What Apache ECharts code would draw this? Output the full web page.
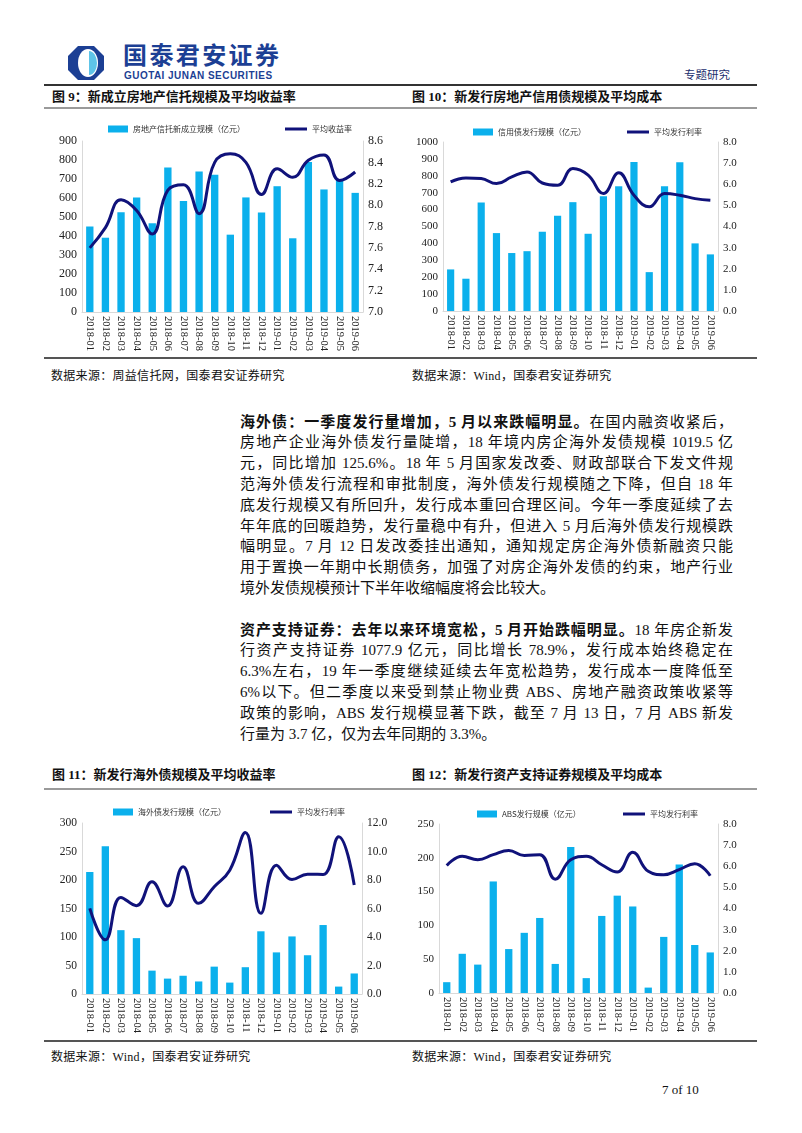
<!DOCTYPE html>
<html><head><meta charset="utf-8">
<script src="https://cdn.jsdelivr.net/npm/echarts@6/dist/echarts.min.js"></script>
<style>
body{margin:0;background:#fff;}
#page{position:relative;width:802px;height:1133px;overflow:hidden;font-family:"Liberation Serif","Noto Sans CJK SC",serif;color:#111;background:#fff;}
.abs{position:absolute;white-space:nowrap;}
.hr{position:absolute;left:44px;width:713px;}
.title{font-size:13px;font-weight:bold;line-height:16px;}
.src{font-size:12px;line-height:16px;letter-spacing:0.3px;}
.ln{position:absolute;left:240px;width:493px;font-size:15px;height:21px;line-height:21px;white-space:nowrap;text-align:justify;text-align-last:justify;}
.ln.last{text-align-last:left;}
.chart{position:absolute;width:360px;height:245px;}
</style>
</head>
<body>
<div id="page">
  <svg class="abs" style="left:66px;top:44px;" width="40" height="38" viewBox="0 0 40 38">
    <path d="M12 2 L28 2 L38 12 L38 26 L28 36 L12 36 L2 26 L2 12 Z" fill="#1c3f94"/>
    <ellipse cx="22" cy="19" rx="10" ry="14" fill="#ffffff"/>
    <path d="M23 7 A8 12 0 0 1 23 31 Z" fill="#5ec4e8"/>
  </svg>
  <div class="abs" style="left:123px;top:40px;font-family:'Noto Sans CJK SC';font-weight:bold;font-size:24px;line-height:28px;color:#1c3f94;letter-spacing:2.4px;">国泰君安证券</div>
  <div class="abs" style="left:124px;top:70px;font-family:'Liberation Sans';font-weight:bold;font-size:10px;line-height:12px;color:#1c3f94;letter-spacing:0.45px;">GUOTAI JUNAN SECURITIES</div>
  <div class="abs" style="left:684px;top:67px;font-family:'Noto Sans CJK SC';font-size:11.5px;line-height:15px;color:#1c2f6e;">专题研究</div>
  <div class="hr" style="top:84px;height:2px;background:#333;"></div>
  <div class="abs title" style="left:52px;top:89px;">图 9：新成立房地产信托规模及平均收益率</div>
  <div class="abs title" style="left:412px;top:89px;">图 10：新发行房地产信用债规模及平均成本</div>
  <div class="hr" style="top:107px;height:2px;background:#9a9a9a;"></div>

  <div id="c9" class="chart" style="left:40px;top:112px;"></div>
  <div id="c10" class="chart" style="left:400px;top:112px;"></div>

  <div class="hr" style="top:357px;height:2px;background:#555;"></div>
  <div class="abs src" style="left:51px;top:368px;">数据来源：周益信托网，国泰君安证券研究</div>
  <div class="abs src" style="left:412px;top:368px;">数据来源：Wind，国泰君安证券研究</div>

  <div id="text"></div>

  <div class="abs title" style="left:52px;top:767px;">图 11：新发行海外债规模及平均收益率</div>
  <div class="abs title" style="left:412px;top:767px;">图 12：新发行资产支持证券规模及平均成本</div>
  <div class="hr" style="top:788px;height:2px;background:#9a9a9a;"></div>

  <div id="c11" class="chart" style="left:40px;top:795px;"></div>
  <div id="c12" class="chart" style="left:400px;top:795px;"></div>

  <div class="hr" style="top:1040px;height:2px;background:#555;"></div>
  <div class="abs src" style="left:51px;top:1049px;">数据来源：Wind，国泰君安证券研究</div>
  <div class="abs src" style="left:412px;top:1049px;">数据来源：Wind，国泰君安证券研究</div>
  <div class="abs" style="left:662px;top:1082px;font-size:13px;line-height:16px;">7 of 10</div>
</div>
<script>
// ---------- data ----------
const months = ['2018-01','2018-02','2018-03','2018-04','2018-05','2018-06','2018-07','2018-08','2018-09','2018-10','2018-11','2018-12','2019-01','2019-02','2019-03','2019-04','2019-05','2019-06'];

const trustScale = [450,391,525,602,467,760,584,739,722,407,603,524,662,388,790,645,694,627];
const trustYield = [7.60,7.79,8.05,7.95,7.73,8.14,8.19,7.92,8.40,8.48,8.40,8.10,8.34,8.26,8.42,8.47,8.23,8.31];

const creditScale = [246,191,642,461,343,354,469,563,644,457,679,738,882,230,738,880,400,335];
const creditRate = [6.11,6.30,6.27,6.03,6.35,6.58,6.06,5.95,6.74,6.43,5.56,6.54,5.48,4.93,5.56,5.48,5.32,5.24];

const overseasScale = [214,259,112,98,41,27,32,22,48,20,47,110,73,101,68,121,13,36];
const overseasRate = [6.01,3.80,6.78,6.20,7.88,6.18,8.93,6.36,7.53,8.69,11.33,5.66,9.04,8.04,8.41,8.39,11.03,7.65];

const absScale = [16,58,42,165,65,89,111,43,216,22,114,144,128,8,83,190,71,60];
const absRate = [6.04,6.47,6.31,6.55,6.75,6.51,6.55,5.39,6.31,6.47,6.07,5.73,6.66,5.76,5.60,5.84,6.12,5.55];

const para1 = [
  ['<b>海外债：一季度发行量增加，5 月以来跌幅明显。</b>在国内融资收紧后，', false],
  ['房地产企业海外债发行量陡增，18 年境内房企海外发债规模 1019.5 亿', false],
  ['元，同比增加 125.6%。18 年 5 月国家发改委、财政部联合下发文件规', false],
  ['范海外债发行流程和审批制度，海外债发行规模随之下降，但自 18 年', false],
  ['底发行规模又有所回升，发行成本重回合理区间。今年一季度延续了去', false],
  ['年年底的回暖趋势，发行量稳中有升，但进入 5 月后海外债发行规模跌', false],
  ['幅明显。7 月 12 日发改委挂出通知，通知规定房企海外债新融资只能', false],
  ['用于置换一年期中长期债务，加强了对房企海外发债的约束，地产行业', false],
  ['境外发债规模预计下半年收缩幅度将会比较大。', true]
];
const para2 = [
  ['<b>资产支持证券：去年以来环境宽松，5 月开始跌幅明显。</b>18 年房企新发', false],
  ['行资产支持证券 1077.9 亿元，同比增长 78.9%，发行成本始终稳定在', false],
  ['6.3%左右，19 年一季度继续延续去年宽松趋势，发行成本一度降低至', false],
  ['6%以下。但二季度以来受到禁止物业费 ABS、房地产融资政策收紧等', false],
  ['政策的影响，ABS 发行规模显著下跌，截至 7 月 13 日，7 月 ABS 新发', false],
  ['行量为 3.7 亿，仅为去年同期的 3.3%。', true]
];

// ---------- text ----------
(function(){
  const host = document.getElementById('text');
  const LH = 20.8;
  function put(lines, y0){
    lines.forEach((l,i)=>{
      const d = document.createElement('div');
      d.className = 'ln' + (l[1] ? ' last' : '');
      d.style.top = (y0 + i*LH - 10.5) + 'px';
      d.innerHTML = l[0];
      host.appendChild(d);
    });
  }
  put(para1, 422);
  put(para2, 422 + 10*LH);
})();

// ---------- charts ----------
const BAR = '#0bb0ec';
const LINE = '#10127a';
const NUMFONT = 'Liberation Serif';
const CJK = 'Noto Sans CJK SC';

function build(id, cfg){
  const chart = echarts.init(document.getElementById(id), null, {renderer:'canvas'});
  const legText = {fontSize:8, color:'#333', fontFamily:CJK, lineHeight:10};
  chart.setOption({
    animation:false,
    grid:{left:cfg.grid[0], right:cfg.grid[1], top:cfg.grid[2], bottom:cfg.grid[3]},
    legend:[
      {data:[cfg.barName], left:cfg.leg[0], top:cfg.leg[2], icon:'rect', itemWidth:20, itemHeight:7, itemGap:4, textStyle:legText, padding:0},
      {data:[{name:cfg.lineName, icon:'rect', itemStyle:{color:LINE}}], left:cfg.leg[1], top:cfg.leg[2], itemWidth:22, itemHeight:3, itemGap:4, textStyle:legText, padding:0}
    ],
    xAxis:{
      type:'category', data:months,
      axisLine:{lineStyle:{color:'#d9d9d9', width:1}},
      axisTick:{show:false},
      axisLabel:{rotate:-90, interval:0, fontSize:10.5, color:'#222', fontFamily:NUMFONT, margin:4}
    },
    yAxis:[
      {type:'value', min:0, max:cfg.lmax, interval:cfg.lint,
       splitLine:{show:false}, axisTick:{show:false},
       axisLine:{show:true, lineStyle:{color:'#d9d9d9'}},
       axisLabel:{fontSize:cfg.fs, color:'#222', fontFamily:NUMFONT, margin:5,
                  formatter:v=>String(Math.round(v))}},
      {type:'value', min:cfg.rmin, max:cfg.rmax, interval:cfg.rint,
       splitLine:{show:false}, axisTick:{show:false},
       axisLine:{show:true, lineStyle:{color:'#d9d9d9'}},
       axisLabel:{fontSize:cfg.fs, color:'#222', fontFamily:NUMFONT, margin:5,
                  formatter:v=>(Math.round(v*10)/10).toFixed(1)}}
    ],
    series:[
      {name:cfg.barName, type:'bar', data:cfg.bars, barWidth:'47%', itemStyle:{color:BAR}},
      {name:cfg.lineName, type:'line', yAxisIndex:1, data:cfg.line, smooth:0.45, symbol:'none',
       lineStyle:{width:3, color:LINE}, itemStyle:{color:LINE}}
    ]
  });
}

build('c9', {barName:'房地产信托新成立规模（亿元）', lineName:'平均收益率',
  bars:trustScale, line:trustYield, lmax:900, lint:100, rmin:7.0, rmax:8.6, rint:0.2,
  grid:[42,37,29,45], leg:[68,245,12], fs:12});
build('c10', {barName:'信用债发行规模（亿元）', lineName:'平均发行利率',
  bars:creditScale, line:creditRate, lmax:1000, lint:100, rmin:0, rmax:8, rint:1,
  grid:[43,42,30,46], leg:[73,227,15], fs:11});
build('c11', {barName:'海外债发行规模（亿元）', lineName:'平均发行利率',
  bars:overseasScale, line:overseasRate, lmax:300, lint:50, rmin:0, rmax:12, rint:2,
  grid:[42,38,28,46], leg:[73,230,12], fs:11.5});
build('c12', {barName:'ABS发行规模（亿元）', lineName:'平均发行利率',
  bars:absScale, line:absRate, lmax:250, lint:50, rmin:0, rmax:8, rint:1,
  grid:[39,42,29,47], leg:[77,223,14], fs:11});
</script>
</body></html>
